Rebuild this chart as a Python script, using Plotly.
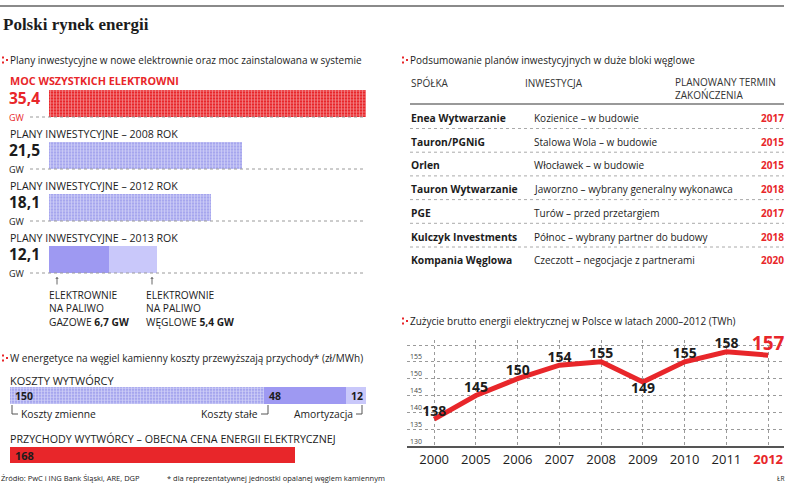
import plotly.graph_objects as go

W, H = 805, 488
FONT = "Open Sans"
SERIF = "Liberation Serif"
DARK = "#1c1c1c"
RED = "#E8262A"
LAV_HATCH = "#A6A6EE"
LAV_DARK = "#9E99F2"
LAV_LIGHT = "#C9C8FA"

# ---------------- data ----------------
plan_rows = ["MOC WSZYSTKICH ELEKTROWNI",
             "PLANY INWESTYCYJNE – 2008 ROK",
             "PLANY INWESTYCYJNE – 2012 ROK",
             "PLANY INWESTYCYJNE – 2013 ROK"]
plan_gw = [35.4, 21.5, 18.1, 12.1]
plan_2013_gas = 6.7
plan_2013_coal = 5.4

cost_rows = ["KOSZTY WYTWÓRCY",
             "PRZYCHODY WYTWÓRCY – OBECNA CENA ENERGII ELEKTRYCZNEJ"]
cost_labels = ["Koszty zmienne", "Koszty stałe", "Amortyzacja"]
cost_values = [150, 48, 12]
revenue_value = 168

companies = ["Enea Wytwarzanie", "Tauron/PGNiG", "Orlen", "Tauron Wytwarzanie",
             "PGE", "Kulczyk Investments", "Kompania Węglowa"]
investments = ["Kozienice – w budowie", "Stalowa Wola – w budowie",
               "Włocławek – w budowie", "Jaworzno – wybrany generalny wykonawca",
               "Turów – przed przetargiem", "Północ – wybrany partner do budowy",
               "Czeczott – negocjacje z partnerami"]
completion_years = ["2017", "2015", "2015", "2018", "2017", "2018", "2020"]

years = ["2000", "2005", "2006", "2007", "2008", "2009", "2010", "2011", "2012"]
consumption = [138, 145, 150, 154, 155, 149, 155, 158, 157]
y_ticks = [130, 135, 140, 145, 150, 155, 160]


def fmt(v):
    return f"{v:.1f}".replace(".", ",")


def px(x):
    return x / W


def py(y):
    return 1 - y / H


ann = []
shapes = []


def T(x, y, text, size=10, color=DARK, xanchor="left", yanchor="middle", family=FONT):
    ann.append(dict(x=px(x), y=py(y), xref="paper", yref="paper", text=text,
                    showarrow=False, xanchor=xanchor, yanchor=yanchor, align="left",
                    borderpad=0,
                    font=dict(size=size, color=color, family=family)))


def L(x0, y0, x1, y1, color="#666", width=1, dash="solid"):
    shapes.append(dict(type="line", xref="paper", yref="paper",
                       x0=px(x0), y0=py(y0), x1=px(x1), y1=py(y1),
                       line=dict(color=color, width=width, dash=dash)))


def R(x0, y0, x1, y1, color):
    shapes.append(dict(type="rect", xref="paper", yref="paper",
                       x0=px(x0), y0=py(y0), x1=px(x1), y1=py(y1),
                       line=dict(width=0), fillcolor=color))


def marker(x, y):
    R(x - 1, y - 3.5, x + 1, y - 1.5, RED)
    R(x - 1, y + 1.5, x + 1, y + 3.5, RED)
    R(x + 3, y - 1, x + 5, y + 1, RED)


fig = go.Figure()

hatch = dict(shape="+", fgcolor="white", size=3, solidity=0.4)

# ---- top-left bars ----
fig.add_trace(go.Bar(y=plan_rows[:1], x=plan_gw[:1], orientation="h", width=0.52,
                     marker=dict(color=RED, line=dict(width=0),
                                 pattern=dict(bgcolor=RED, **hatch)),
                     xaxis="x", yaxis="y", hoverinfo="skip"))
fig.add_trace(go.Bar(y=plan_rows[1:3], x=plan_gw[1:3], orientation="h", width=0.52,
                     marker=dict(color=LAV_HATCH, line=dict(width=0),
                                 pattern=dict(bgcolor=LAV_HATCH, **hatch)),
                     xaxis="x", yaxis="y", hoverinfo="skip"))
fig.add_trace(go.Bar(y=plan_rows[3:], x=[plan_2013_gas], orientation="h", width=0.52,
                     marker=dict(color=LAV_DARK, line=dict(width=0)),
                     xaxis="x", yaxis="y", hoverinfo="skip"))
fig.add_trace(go.Bar(y=plan_rows[3:], x=[plan_2013_coal], orientation="h", width=0.52,
                     marker=dict(color=LAV_LIGHT, line=dict(width=0)),
                     xaxis="x", yaxis="y", hoverinfo="skip"))

# ---- bottom-left bars ----
cost_colors = [None, LAV_DARK, LAV_LIGHT]
for i, v in enumerate(cost_values):
    if i == 0:
        mk = dict(color=LAV_HATCH, line=dict(width=0), pattern=dict(bgcolor=LAV_HATCH, **hatch))
    else:
        mk = dict(color=cost_colors[i], line=dict(width=0))
    fig.add_trace(go.Bar(y=cost_rows[:1], x=[v], orientation="h", width=0.29, marker=mk,
                         xaxis="x2", yaxis="y2", hoverinfo="skip"))
fig.add_trace(go.Bar(y=cost_rows[1:], x=[revenue_value], orientation="h", width=0.27,
                     marker=dict(color=RED, line=dict(width=0)),
                     xaxis="x2", yaxis="y2", hoverinfo="skip"))

# ---- line chart ----
n = len(consumption)
positions = []
for i, v in enumerate(consumption):
    if 0 < i < n - 1 and v < consumption[i - 1] and v < consumption[i + 1]:
        positions.append("bottom center")
    else:
        positions.append("top center")
fig.add_trace(go.Scatter(x=years, y=consumption, mode="lines+text",
                         line=dict(color=RED, width=5),
                         text=[str(v) for v in consumption],
                         texttemplate="<b>%{text}</b>",
                         textposition=positions,
                         textfont=dict(family=FONT, size=[14] * (n - 1) + [19],
                                       color=[DARK] * (n - 1) + [RED]),
                         xaxis="x3", yaxis="y3", hoverinfo="skip", cliponaxis=False))

# ---------------- decorations / texts ----------------
L(0, 6, 784, 6, "#8a8a8a", 2.2)
T(2, 24, "<b>Polski rynek energii</b>", size=17, family=SERIF)

for (mx, my, txt) in [(3, 60, "Plany inwestycyjne w nowe elektrownie oraz moc zainstalowana w systemie"),
                      (403, 60, "Podsumowanie planów inwestycyjnych w duże bloki węglowe"),
                      (3, 358, "W energetyce na węgiel kamienny koszty przewyższają przychody* (zł/MWh)"),
                      (403, 321, "Zużycie brutto energii elektrycznej w Polsce w latach 2000–2012 (TWh)")]:
    marker(mx, my)
    T(mx + 6, my, txt, size=10)

# top-left rows
for i, (name, v) in enumerate(zip(plan_rows, plan_gw)):
    c = 103.5 + 52 * i
    col = RED if i == 0 else DARK
    if i == 0:
        T(9, c - 23, f"<b>{name}</b>", size=10.8, color=RED)
    else:
        T(9, c - 21.5, name, size=10.6, color=DARK)
    T(8, c + 1.5,
      f"<b><span style='font-size:15.5px'>{fmt(v)}</span></b><br>"
      f"<span style='font-size:9px'>GW</span>", size=13, color=col)
    L(30, c + 13.5, 366, c + 13.5, "#9a9a9a", 1, "dot")

for ax_x in (57, 152):
    ann.append(dict(x=px(ax_x), y=py(277), xref="paper", yref="paper", text="",
                    showarrow=True, ax=0, ay=9, arrowhead=1, arrowsize=0.6,
                    arrowwidth=1, arrowcolor="#666"))
for lx, kind, val in [(48, "GAZOWE", plan_2013_gas), (145, "WĘGLOWE", plan_2013_coal)]:
    T(lx, 287, f"ELEKTROWNIE<br>NA PALIWO<br>{kind} <b>{fmt(val)} GW</b>",
      size=10.2, yanchor="top")

# bottom-left texts
T(9, 380, cost_rows[0], size=11)
T(9, 439, cost_rows[1], size=10.7)
start = 0
for v in cost_values:
    ann.append(dict(x=start, y=cost_rows[0], xref="x2", yref="y2", text=f"<b>{v}</b>",
                    showarrow=False, xanchor="left", xshift=3,
                    font=dict(size=10.5, color=DARK, family=FONT)))
    start += v
ann.append(dict(x=0, y=cost_rows[1], xref="x2", yref="y2", text=f"<b>{revenue_value}</b>",
                showarrow=False, xanchor="left", xshift=3,
                font=dict(size=11, color=DARK, family=FONT)))

L(12, 405, 12, 414, "#555")
L(12, 414, 18, 414, "#555")
T(20, 414, cost_labels[0], size=10.3)
T(259, 414, cost_labels[1], size=10.3, xanchor="right")
L(261, 414, 268, 414, "#555")
L(268, 414, 268, 405, "#555")
T(354, 414, cost_labels[2], size=10.3, xanchor="right")
L(356, 414, 362, 414, "#555")
L(362, 414, 362, 405, "#555")

T(0, 478, "Źródło: PwC i ING Bank Śląski, ARE, DGP", size=7.5)
T(166, 478, "* dla reprezentatywnej jednostki opalanej węglem kamiennym", size=7.5)
T(785, 478, "ŁR", size=6.5, xanchor="right")

# table
T(410, 83, "SPÓŁKA", size=10, color="#333")
T(524, 83, "INWESTYCJA", size=10, color="#333")
T(674, 88.5, "PLANOWANY TERMIN<br>ZAKOŃCZENIA", size=10, color="#333")
L(410, 104, 784, 104, "#777", 1.5)
for i, (co, inv, yr) in enumerate(zip(companies, investments, completion_years)):
    y = 118 + 23.7 * i
    T(410, y, f"<b>{co}</b>", size=10.3)
    T(533, y, inv, size=10)
    T(785, y, f"<b>{yr}</b>", size=10, color=RED, xanchor="right")
    if i < len(companies) - 1:
        L(410, y + 10.5, 784, y + 10.5, "#aaaaaa", 1, "dot")

ticktext = [y if y != years[-1] else f"<b><span style='color:{RED}'>{y}</span></b>" for y in years]

hidden = dict(showgrid=False, zeroline=False, showticklabels=False, showline=False, fixedrange=True)

fig.update_layout(
    width=W, height=H, margin=dict(l=0, r=0, t=0, b=0),
    paper_bgcolor="white", plot_bgcolor="white", showlegend=False,
    barmode="stack", font=dict(family=FONT, color=DARK),
    xaxis=dict(domain=[px(49), px(366)], range=[0, 35.4], anchor="y", **hidden),
    yaxis=dict(domain=[py(285.5), py(77.5)], type="category", categoryarray=plan_rows,
               range=[3.5, -0.5], anchor="x", **hidden),
    xaxis2=dict(domain=[px(10), px(366)], range=[0, 210], anchor="y2", **hidden),
    yaxis2=dict(domain=[py(484.75), py(365.75)], type="category", categoryarray=cost_rows,
                range=[1.5, -0.5], anchor="x2", **hidden),
    xaxis3=dict(domain=[px(407), px(784)], type="category", categoryarray=years,
                range=[-0.65, 8.38], anchor="y3", showgrid=True, gridcolor="#9a9a9a",
                griddash="dot", gridwidth=1, showline=True, linecolor="#555", linewidth=2,
                zeroline=False, ticks="", tickvals=years, ticktext=ticktext,
                tickfont=dict(size=13, color=DARK, family=FONT), fixedrange=True),
    yaxis3=dict(domain=[py(446), py(340)], range=[130, 161.5], anchor="x3",
                tickvals=y_ticks, showgrid=True, gridcolor="#9a9a9a", griddash="dot",
                gridwidth=1, zeroline=False, showline=False, ticks="",
                ticklabelposition="inside top",
                tickfont=dict(size=7, color="#444", family=FONT), fixedrange=True),
    annotations=ann, shapes=shapes,
)

fig.write_html("out.html", config={"displayModeBar": False},
               post_script="document.body.style.margin='0';document.body.style.padding='0';")
